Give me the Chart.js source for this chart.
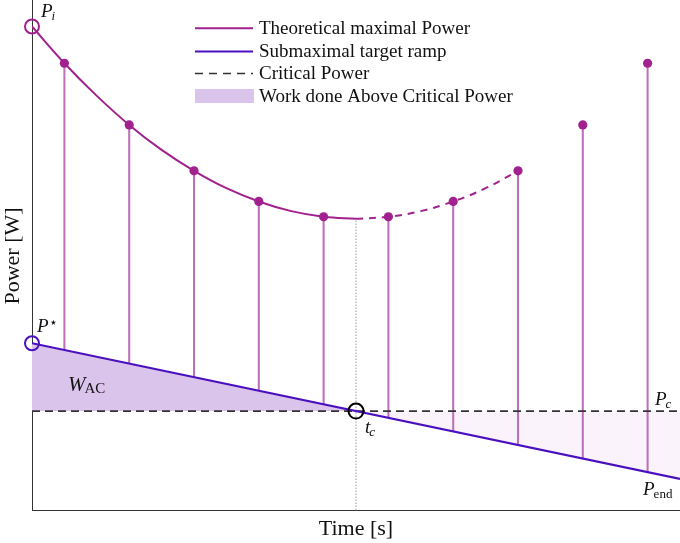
<!DOCTYPE html>
<html><head><meta charset="utf-8">
<script src="https://cdn.jsdelivr.net/npm/chart.js@4.4.1/dist/chart.umd.min.js"></script>
<style>html,body{margin:0;padding:0;background:#fff}#wrap{width:680px;height:543px;position:relative}</style>
</head><body><div id="wrap"><canvas id="c"></canvas></div>
<script>
// ---- data ----
const curveX = [0, 1, 2, 3, 4, 5, 6, 7, 8, 9, 10];
const curveY = [94.8, 87.6, 81.2, 75.5, 70.6, 66.5, 63.1, 60.5, 58.6, 57.5, 57.1];
const dashX = [10, 11, 12, 13, 14, 15];
const dashY = [57.1, 57.5, 58.6, 60.5, 63.1, 66.5];
const dotX = [1, 3, 5, 7, 9, 11, 13, 15, 17, 19];
const dotY = [87.6, 75.5, 66.5, 60.5, 57.5, 57.5, 60.5, 66.5, 75.5, 87.6];
const stemBase = [31.4, 28.7, 26.0, 23.4, 20.7, 18.1, 15.4, 12.8, 10.1, 7.4];
const rampX = [0, 20];
const rampY = [32.7, 6.1];
const cpX = [0, 20];
const cpY = [19.4, 19.4];
const tc = { x: 10, y: 19.4, top: 57.1 };
const pi = { x: 0, y: 94.8 };
const pStar = { x: 0, y: 32.7 };
const legendLabels = ['Theoretical maximal Power', 'Submaximal target ramp', 'Critical Power', 'Work done Above Critical Power'];
const axisTitles = { x: 'Time [s]', y: 'Power [W]' };

// ---- styles ----
const C_THEO = '#a1218e', C_STEM = '#bd70ba', C_RAMP = '#4a10bf', C_CP = '#333333';
const C_FILL_A = '#dbc4ec', C_FILL_B = '#faf3fc';
const SERIF = '"Liberation Serif", "DejaVu Serif", serif';

const pts = (xs, ys) => xs.map((x, i) => ({ x, y: ys[i] }));

const datasets = [
  { label: 'cp', data: pts(cpX, cpY), borderColor: C_CP, borderWidth: 1.7, borderDash: [8, 5], pointRadius: 0, fill: false, order: 8 },
  { label: 'ramp', data: pts(rampX, rampY), borderColor: C_RAMP, borderWidth: 2.2, pointRadius: 0,
    fill: { target: 0, above: C_FILL_A, below: C_FILL_B }, order: 7 },
  { label: 'theo', data: pts(curveX, curveY), borderColor: C_THEO, borderWidth: 2, pointRadius: 0,
    tension: 0.4, fill: false, order: 6 },
  { label: 'theoDash', data: pts(dashX, dashY), borderColor: C_THEO, borderWidth: 2, borderDash: [7, 6], pointRadius: 0,
    tension: 0.4, fill: false, order: 5 },
  { type: 'bar', label: 'stems', data: dotX.map((x, i) => ({ x, y: [stemBase[i], dotY[i]] })),
    backgroundColor: C_STEM, borderWidth: 0, barThickness: 1.4, order: 9 },
  { label: 'dots', data: pts(dotX, dotY), showLine: false, pointRadius: 4.6, pointBackgroundColor: C_THEO,
    pointBorderWidth: 0, fill: false, order: 4 },
  { label: 'tcLine', data: [{ x: tc.x, y: 0 }, { x: tc.x, y: tc.top }], borderColor: '#999999', borderWidth: 1,
    borderDash: [1.5, 1.5], pointRadius: 0, fill: false, order: 10 },
  { label: 'pi', data: [pi], showLine: false, pointRadius: 7, pointBorderWidth: 2, pointBorderColor: C_THEO,
    pointBackgroundColor: 'rgba(0,0,0,0)', clip: false, order: 3 },
  { label: 'pstar', data: [pStar], showLine: false, pointRadius: 7, pointBorderWidth: 2, pointBorderColor: C_RAMP,
    pointBackgroundColor: 'rgba(0,0,0,0)', clip: false, order: 2 },
  { label: 'tc', data: [{ x: tc.x, y: tc.y }], showLine: false, pointRadius: 7.5, pointBorderWidth: 2, pointBorderColor: '#000',
    pointBackgroundColor: 'rgba(0,0,0,0)', clip: false, order: 1 }
];

function drawMath(ctx, x, y, main, sub, subItalic, sup) {
  ctx.save();
  ctx.fillStyle = '#111';
  ctx.textBaseline = 'alphabetic';
  ctx.textAlign = 'left';
  ctx.font = 'italic 19px ' + SERIF;
  ctx.fillText(main, x, y);
  const w = ctx.measureText(main).width;
  if (sub) {
    ctx.font = (subItalic ? 'italic ' : '') + '13px ' + SERIF;
    ctx.fillText(sub, x + w - 1, y + 3);
  }
  if (sup) {
    ctx.font = '14px "DejaVu Sans", sans-serif';
    ctx.fillText(sup, x + w + 0.5, y - 5);
  }
  ctx.restore();
}

const textPlugin = {
  id: 'texts',
  afterDatasetsDraw(chart) {
    const ctx = chart.ctx;
    const xs = chart.scales.x, ys = chart.scales.y;
    const px = v => xs.getPixelForValue(v), py = v => ys.getPixelForValue(v);
    // annotations
    drawMath(ctx, px(pi.x) + 9, py(pi.y) - 10, 'P', 'i', true);
    drawMath(ctx, px(pStar.x) + 5, py(pStar.y) - 11, 'P', null, false, '⋆');
    ctx.save();
    ctx.fillStyle = '#111';
    ctx.font = 'italic 21px ' + SERIF;
    ctx.fillText('W', 68, 391);
    const ww = ctx.measureText('W').width;
    ctx.font = '15px ' + SERIF;
    ctx.fillText('AC', 68 + ww - 1, 393);
    ctx.restore();
    drawMath(ctx, px(tc.x) + 9, py(tc.y) + 22, 't', 'c', true);
    drawMath(ctx, 655, py(cpY[1]) - 6, 'P', 'c', true);
    drawMath(ctx, 643, 495, 'P', 'end', false);
    // legend
    ctx.save();
    const lx0 = 195, lx1 = 253, tx = 259, rows = [28.3, 51.5, 73.5, 96];
    ctx.lineWidth = 2;
    ctx.strokeStyle = C_THEO; ctx.beginPath(); ctx.moveTo(lx0, rows[0]); ctx.lineTo(lx1, rows[0]); ctx.stroke();
    ctx.strokeStyle = C_RAMP; ctx.beginPath(); ctx.moveTo(lx0, rows[1]); ctx.lineTo(lx1, rows[1]); ctx.stroke();
    ctx.strokeStyle = C_CP; ctx.lineWidth = 1.7; ctx.setLineDash([8, 6]);
    ctx.beginPath(); ctx.moveTo(lx0, rows[2]); ctx.lineTo(lx1, rows[2]); ctx.stroke();
    ctx.setLineDash([]);
    ctx.fillStyle = C_FILL_A; ctx.fillRect(lx0, rows[3] - 7, lx1 - lx0 + 1, 14);
    ctx.fillStyle = '#111'; ctx.font = '19px ' + SERIF; ctx.textBaseline = 'middle';
    legendLabels.forEach((t, i) => ctx.fillText(t, tx, rows[i] + 1));
    // axis titles
    ctx.font = '22px ' + SERIF; ctx.textAlign = 'center';
    ctx.fillText(axisTitles.x, (xs.left + xs.right) / 2, 529);
    ctx.translate(13, 256); ctx.rotate(-Math.PI / 2);
    ctx.fillText(axisTitles.y, 0, 0);
    ctx.restore();
  }
};

new Chart(document.getElementById('c'), {
  type: 'line',
  data: { datasets },
  options: {
    responsive: true, maintainAspectRatio: false, animation: false,
    layout: { autoPadding: false, padding: { left: 32, right: 0, top: 0, bottom: 33 } },
    plugins: { legend: { display: false }, tooltip: { enabled: false }, filler: { drawTime: 'beforeDatasetsDraw' } },
    scales: {
      x: { type: 'linear', min: 0, max: 20, offset: false, ticks: { display: false },
           grid: { display: false, drawTicks: false }, border: { display: true, color: '#333', width: 1 } },
      y: { type: 'linear', min: 0, max: 100, ticks: { display: false },
           grid: { display: false, drawTicks: false }, border: { display: true, color: '#333', width: 1 } }
    }
  },
  plugins: [textPlugin]
});
</script></body></html>
